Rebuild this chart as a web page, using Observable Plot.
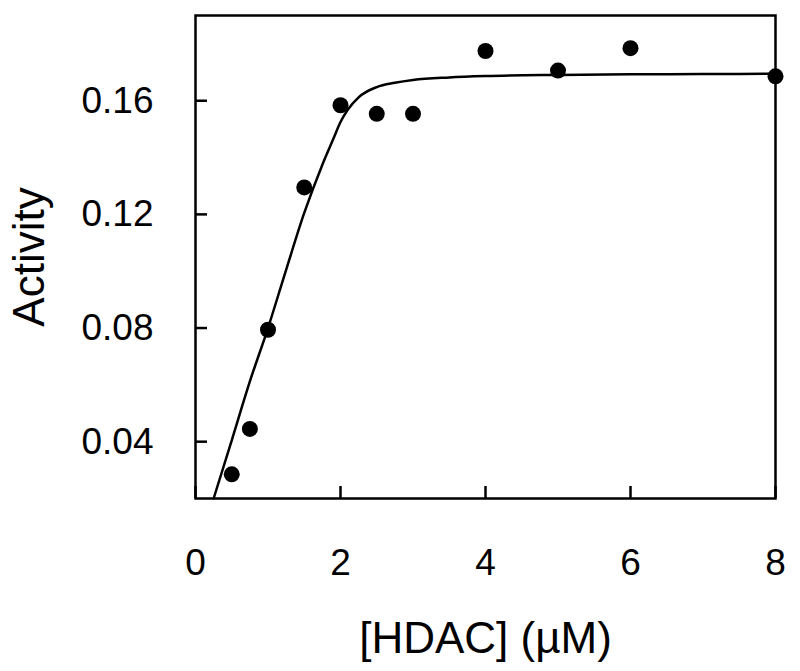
<!DOCTYPE html>
<html>
<head>
<meta charset="utf-8">
<script src="https://cdn.jsdelivr.net/npm/d3@7"></script>
<script src="https://cdn.jsdelivr.net/npm/@observablehq/plot@0.6"></script>
<style>
  html, body { margin: 0; padding: 0; background: #fff; }
</style>
</head>
<body>
<div id="chart"></div>
<script>
// Measured data points
const hdac = [0.5, 0.75, 1.0, 1.5, 2.0, 2.5, 3.0, 4.0, 5.0, 6.0, 8.0];
const activity = [0.0285, 0.0445, 0.0794, 0.1295, 0.1584, 0.1554, 0.1554, 0.1775, 0.1706, 0.1785, 0.1686];

// Fitted curve
const fitX = [0.25, 0.5, 0.75, 1.0, 1.25, 1.5, 1.75, 1.9, 2.0, 2.1, 2.25, 2.5, 2.75, 3.0, 3.5, 4.0, 5.0, 6.0, 7.0, 8.0];
const fitY = [0.0200, 0.0405, 0.0612, 0.0800, 0.1005, 0.1205, 0.1375, 0.1465, 0.1525, 0.1568, 0.1612, 0.1648, 0.1663, 0.1673, 0.1682, 0.1687, 0.1691, 0.1693, 0.1694, 0.1695];

// Tick labels
const xTicks = [0, 2, 4, 6, 8];
const yTicks = [0.04, 0.08, 0.12, 0.16];
const xTitle = "[HDAC] (µM)";
const yTitle = "Activity";

const points = hdac.map((x, i) => ({x, y: activity[i]}));
const fit = fitX.map((x, i) => ({x, y: fitY[i]}));

const chart = Plot.plot({
  width: 800,
  height: 671,
  marginTop: 15,
  marginBottom: 173,
  marginLeft: 195,
  marginRight: 25,
  style: {fontFamily: "'Liberation Sans', Arial, sans-serif", background: "#fff", color: "#000"},
  x: {domain: [0, 8]},
  y: {domain: [0.02, 0.19]},
  marks: [
    Plot.frame({stroke: "#000", strokeWidth: 2.5}),
    Plot.axisX(xTicks, {tickSize: -12, strokeWidth: 2.5, text: null, label: null}),
    Plot.axisX(xTicks, {tickSize: 0, tickPadding: 50, fontSize: 37, label: null}),
    Plot.axisY(yTicks, {tickSize: -12, strokeWidth: 2.5, text: null, label: null}),
    Plot.axisY(yTicks, {tickSize: 0, tickPadding: 42, fontSize: 37, tickFormat: d => d.toFixed(2), label: null}),
    Plot.line(fit, {x: "x", y: "y", curve: "monotone-x", stroke: "#000", strokeWidth: 2.5}),
    Plot.dot(points, {x: "x", y: "y", r: 8, fill: "#000", stroke: "none"}),
    Plot.text([xTitle], {frameAnchor: "bottom", dy: 154, lineAnchor: "bottom", textAnchor: "middle", fontSize: 44, fill: "#000"}),
    Plot.text([yTitle], {frameAnchor: "left", dx: -152, rotate: -90, lineAnchor: "bottom", textAnchor: "middle", fontSize: 44, fill: "#000"})
  ]
});
document.getElementById("chart").appendChild(chart);
</script>
</body>
</html>
